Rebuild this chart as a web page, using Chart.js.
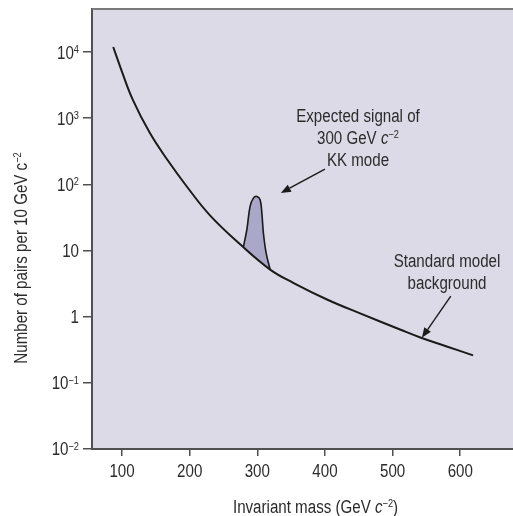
<!DOCTYPE html>
<html><head><meta charset="utf-8">
<script src="https://cdn.jsdelivr.net/npm/chart.js@4.4.1/dist/chart.umd.min.js"></script>
<style>html,body{margin:0;padding:0;background:#fff;}</style>
</head><body>
<canvas id="c" width="513" height="516"></canvas>
<script>
// ---- data ----
const bgMass  = [87, 100, 116, 141, 167, 196, 230, 275, 319, 353, 403, 452, 511, 541, 580, 619];
const bgPairs = [11900, 5000, 1890, 600, 235, 92, 34, 12.3, 5.15, 3.25, 1.82, 1.12, 0.64, 0.485, 0.355, 0.26];
const sigMass  = [279.4, 284.5, 289.3, 294.2, 299.3, 304.1, 306.7, 309, 313, 319];
const sigPairs = [11.3, 20.6, 46.4, 62, 65.6, 58.6, 36.9, 18.4, 9.2, 5.15];
const xTicks = [100, 200, 300, 400, 500, 600];
const xTickLabels = ['100', '200', '300', '400', '500', '600'];
const yTickExps = [-2, -1, 0, 1, 2, 3, 4];
const yTickLabels = [['10','−2'], ['10','−1'], ['1',''], ['10',''], ['10','2'], ['10','3'], ['10','4']];
const xRange = [55.6, 678];
const yRange = [0.01, 44700];

const xTitleParts = [['Invariant mass (GeV ','n'], ['c','i'], ['−2','s'], [')','n']];
const yTitleParts = [['Number of pairs per 10 GeV c','n'], ['−2','s']];
const sigNote = [[['Expected signal of','n']], [['300 GeV ','n'], ['c','i'], ['−2','s']], [['KK mode','n']]];
const bgNote = [[['Standard model','n']], [['background','n']]];
// arrows in data coordinates: [fromX, fromY, tipX, tipY]
const sigArrow = [400, 170, 334.8, 74];
const bgArrow  = [586, 2.04, 543.3, 0.48];

// ---- fonts (condensed look by horizontal scaling) ----
const FAM = '"Liberation Sans", Arimo, sans-serif';
const FS = 18;
const SX = 0.84;
const SUPFS = 11;
const TXT = '#2b2b2b';
const AXIS = '#505050';

function fontFor(kind){
  if (kind === 'i') return 'italic ' + FS + 'px ' + FAM;
  if (kind === 's') return SUPFS + 'px ' + FAM;
  return FS + 'px ' + FAM;
}
function partsWidth(ctx, parts){
  let w = 0; for (const [t,k] of parts){ ctx.font = fontFor(k); w += ctx.measureText(t).width; } return w * SX;
}
function drawParts(ctx, parts, x, y){ // x = left, y = baseline
  const capT = FS * 0.72, capS = SUPFS * 0.72;
  ctx.save(); ctx.translate(x, y); ctx.scale(SX, 1);
  let cx = 0;
  for (const [t,k] of parts){
    ctx.font = fontFor(k);
    const yy = k === 's' ? -capT + capS - 0.5 : 0;
    ctx.fillText(t, cx, yy);
    cx += ctx.measureText(t).width;
  }
  ctx.restore();
}
function drawCentered(ctx, parts, cx, y){ drawParts(ctx, parts, cx - partsWidth(ctx, parts)/2, y); }
function arrow(ctx, x1, y1, x2, y2){
  const a = Math.atan2(y2 - y1, x2 - x1), L = 10, W = 4;
  const bx = x2 - L*Math.cos(a), by = y2 - L*Math.sin(a);
  ctx.strokeStyle = '#1a1a1a'; ctx.lineWidth = 1.4;
  ctx.beginPath(); ctx.moveTo(x1, y1); ctx.lineTo(bx, by); ctx.stroke();
  ctx.fillStyle = '#1a1a1a';
  ctx.beginPath(); ctx.moveTo(x2, y2);
  ctx.lineTo(bx + W*Math.sin(a), by - W*Math.cos(a));
  ctx.lineTo(bx - W*Math.sin(a), by + W*Math.cos(a));
  ctx.closePath(); ctx.fill();
}

const decor = {
  id: 'decor',
  beforeDraw(chart){
    const {ctx, chartArea: a} = chart;
    ctx.save();
    ctx.fillStyle = '#fff'; ctx.fillRect(0, 0, chart.width, chart.height);
    ctx.fillStyle = '#dddae7'; ctx.fillRect(a.left, a.top, a.right - a.left, a.bottom - a.top);
    ctx.restore();
  },
  afterDraw(chart){
    const {ctx, chartArea: a, scales: {x, y}} = chart;
    ctx.save();
    ctx.strokeStyle = '#7a7a7a'; ctx.lineWidth = 2;
    ctx.beginPath(); ctx.moveTo(a.left, a.top); ctx.lineTo(a.right, a.top); ctx.stroke();
    ctx.fillStyle = TXT; ctx.textAlign = 'left'; ctx.textBaseline = 'alphabetic';
    // y tick labels
    yTickExps.forEach((e, i) => {
      const py = y.getPixelForValue(Math.pow(10, e));
      const [b, s] = yTickLabels[i];
      const parts = s ? [[b,'n'],[s,'s']] : [[b,'n']];
      const w = partsWidth(ctx, parts);
      drawParts(ctx, parts, a.left - 13 - w, py + FS*0.36);
    });
    // x tick labels
    xTicks.forEach((v, i) => {
      drawCentered(ctx, [[xTickLabels[i],'n']], x.getPixelForValue(v), 477);
    });
    // axis titles
    drawCentered(ctx, xTitleParts, 315.5, 513);
    ctx.save(); ctx.translate(27, 258); ctx.rotate(-Math.PI/2);
    drawCentered(ctx, yTitleParts, 0, 0);
    ctx.restore();
    // annotations
    sigNote.forEach((ln, i) => drawCentered(ctx, ln, 358, 122 + i*22));
    bgNote.forEach((ln, i) => drawCentered(ctx, ln, 447, 267 + i*21.5));
    arrow(ctx, x.getPixelForValue(sigArrow[0]), y.getPixelForValue(sigArrow[1]), x.getPixelForValue(sigArrow[2]), y.getPixelForValue(sigArrow[3]));
    arrow(ctx, x.getPixelForValue(bgArrow[0]), y.getPixelForValue(bgArrow[1]), x.getPixelForValue(bgArrow[2]), y.getPixelForValue(bgArrow[3]));
    ctx.restore();
  }
};

new Chart(document.getElementById('c'), {
  type: 'line',
  data: {
    datasets: [
      { label: 'Standard model background', data: bgMass.map((m, i) => ({x: m, y: bgPairs[i]})),
        borderColor: '#1a1a1a', borderWidth: 2, pointRadius: 0, tension: 0.4, fill: false },
      { label: 'Expected signal of 300 GeV KK mode', data: sigMass.map((m, i) => ({x: m, y: sigPairs[i]})),
        borderColor: '#1a1a1a', borderWidth: 1.6, pointRadius: 0, tension: 0.4,
        fill: {target: 0}, backgroundColor: '#aba7c9' }
    ]
  },
  options: {
    responsive: false, animation: false, devicePixelRatio: 1,
    layout: {padding: {top: 9, right: 0, left: 0, bottom: 0}},
    plugins: {legend: {display: false}, tooltip: {enabled: false}},
    scales: {
      x: {
        type: 'linear', min: xRange[0], max: xRange[1],
        afterBuildTicks: s => { s.ticks = xTicks.map(v => ({value: v})); },
        afterFit: s => { s.height = 67; },
        ticks: {display: false},
        grid: {drawOnChartArea: false, drawTicks: true, tickLength: 7, color: AXIS, lineWidth: 1.5},
        border: {display: true, color: AXIS, width: 2}
      },
      y: {
        type: 'logarithmic', min: yRange[0], max: yRange[1],
        afterBuildTicks: s => { s.ticks = yTickExps.map(e => ({value: Math.pow(10, e)})); },
        afterFit: s => { s.width = 92; },
        ticks: {display: false},
        grid: {drawOnChartArea: false, drawTicks: true, tickLength: 9, color: AXIS, lineWidth: 1.5},
        border: {display: true, color: AXIS, width: 2}
      }
    }
  },
  plugins: [decor]
});
</script>
</body></html>
